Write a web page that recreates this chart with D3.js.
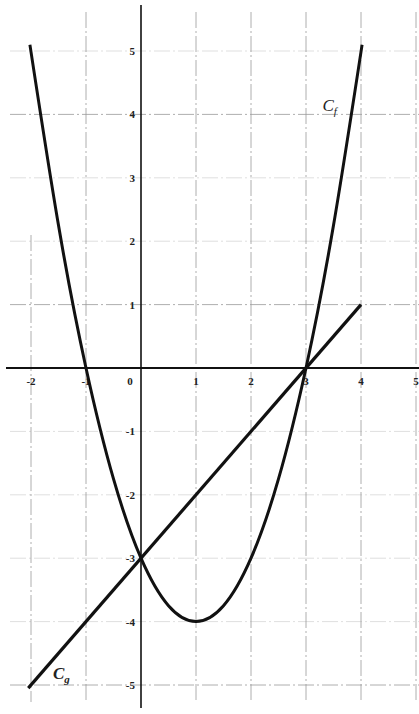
<!DOCTYPE html>
<html><head><meta charset="utf-8">
<script src="https://cdn.jsdelivr.net/npm/d3@7"></script>
<style>body{margin:0;background:#fff}svg{display:block}</style>
</head><body>
<svg id="c" width="419" height="714"></svg>
<script>
const xTicks = [-2,-1,0,1,2,3,4,5];
const yTicks = [-5,-4,-3,-2,-1,1,2,3,4,5];
const xTickLabels = ["-2","-1","0","1","2","3","4","5"];
const yTickLabels = ["-5","-4","-3","-2","-1","1","2","3","4","5"];
// parabola C_f, points
const parabolaX = [-2.02,-1.5,-1,-0.5,0,0.5,1,1.5,2,2.5,3,3.5,4.02];
const parabolaY = [5.1,2.25,0,-1.75,-3,-3.75,-4,-3.75,-3,-1.75,0,2.25,5.1];
// straight line C_g
const lineX = [-2.05,4];
const lineY = [-5.05,1];

const svg = d3.select("#c");
const x = d3.scaleLinear().domain([-2,5]).range([31,416]);
const y = d3.scaleLinear().domain([-5,5]).range([685,51]);

// grid
const g = svg.append("g").attr("stroke","#999").attr("stroke-width",0.8).attr("stroke-dasharray","16,3,2,3");
g.selectAll(".vg").data(xTicks.filter(d=>d!==0)).join("line")
  .attr("x1",d=>x(d)).attr("x2",d=>x(d)).attr("y1",d=>d===-2?235:12).attr("y2",702);
g.selectAll(".hg").data(yTicks).join("line")
  .attr("x1",10).attr("x2",419).attr("y1",d=>y(d)).attr("y2",d=>y(d))
  .attr("stroke-opacity",d=>[4,1,-5].includes(d)?1:0.4);

// axes
svg.append("line").attr("x1",6).attr("x2",419).attr("y1",y(0)).attr("y2",y(0)).attr("stroke","#111").attr("stroke-width",2);
svg.append("line").attr("x1",x(0)).attr("x2",x(0)).attr("y1",5).attr("y2",708).attr("stroke","#111").attr("stroke-width",1.6);

const font = "'Liberation Serif', serif";
svg.selectAll(".xl").data(xTicks).join("text")
  .attr("x",(d,i)=>d===0?x(0)-11:x(d)).attr("y",y(0)+17)
  .attr("text-anchor","middle").attr("font-family",font).attr("font-size",11).attr("font-weight","bold").attr("fill","#222")
  .text((d,i)=>xTickLabels[i]);
svg.selectAll(".yl").data(yTicks).join("text")
  .attr("x",x(0)-6).attr("y",d=>y(d)+4)
  .attr("text-anchor","end").attr("font-family",font).attr("font-size",11).attr("font-weight","bold").attr("fill","#222")
  .text((d,i)=>yTickLabels[i]);

// curves
const pts = parabolaX.map((v,i)=>[v,parabolaY[i]]);
svg.append("path").attr("d",d3.line().x(d=>x(d[0])).y(d=>y(d[1])).curve(d3.curveNatural)(pts))
  .attr("fill","none").attr("stroke","#111").attr("stroke-width",3);
const lpts = lineX.map((v,i)=>[v,lineY[i]]);
svg.append("path").attr("d",d3.line().x(d=>x(d[0])).y(d=>y(d[1]))(lpts))
  .attr("fill","none").attr("stroke","#111").attr("stroke-width",3.2);

// labels
const lab1 = svg.append("text").attr("x",x(3.3)).attr("y",y(4.05)).attr("font-family",font).attr("font-style","italic").attr("font-size",17).attr("fill","#222");
lab1.append("tspan").text("C");
lab1.append("tspan").attr("font-size",11).attr("dy",4).text("f");
const lab2 = svg.append("text").attr("x",x(-1.6)).attr("y",y(-4.9)).attr("font-family",font).attr("font-style","italic").attr("font-weight","bold").attr("font-size",17).attr("fill","#222");
lab2.append("tspan").text("C");
lab2.append("tspan").attr("font-size",11).attr("dy",4).text("g");
</script>
</body></html>
